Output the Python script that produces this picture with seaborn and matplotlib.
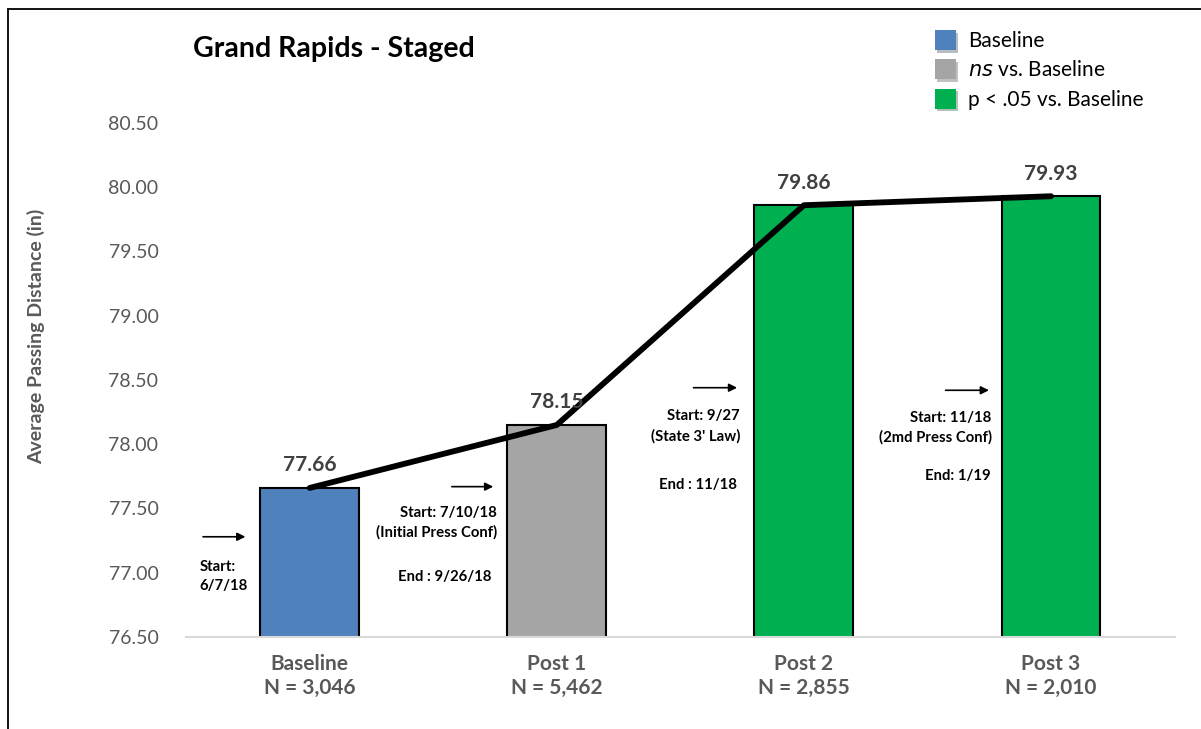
import matplotlib
matplotlib.use("Agg")
import matplotlib.pyplot as plt
import matplotlib.patheffects as pe
from matplotlib.patches import Patch
from matplotlib.lines import Line2D
import seaborn as sns

# data
periods = ["Baseline", "Post 1", "Post 2", "Post 3"]
sample_sizes = ["3,046", "5,462", "2,855", "2,010"]
avg_distance = [77.66, 78.15, 79.86, 79.93]
status = ["Baseline", "ns", "sig", "sig"]
legend_labels = ["Baseline", "$\\it{ns}$ vs. Baseline", "p < .05 vs. Baseline"]
yticks = [76.5, 77.0, 77.5, 78.0, 78.5, 79.0, 79.5, 80.0, 80.5]

colors = {"Baseline": "#4F81BD", "ns": "#A5A5A5", "sig": "#00B050"}
label_grey = "#595959"

sns.set_style("white")
plt.rcParams["font.family"] = ["Lato", "DejaVu Sans"]

fig = plt.figure(figsize=(12.01, 7.29), dpi=100)
ax = fig.add_axes([0.155, 0.1262, 0.823, 0.7051])

sns.barplot(x=periods, y=avg_distance, hue=periods,
            palette=[colors[s] for s in status], width=0.4, saturation=1,
            edgecolor="black", linewidth=1.5, legend=False, ax=ax)
sns.pointplot(x=periods, y=avg_distance, color="black", markers="",
              errorbar=None, lw=4.2, ax=ax)

for cont in ax.containers:
    ax.bar_label(cont, fmt="%.2f", padding=9, fontsize=15,
                 fontweight="bold", color="#404040")

ax.set_ylim(yticks[0], yticks[-1])
ax.set_yticks(yticks)
ax.set_yticklabels([f"{t:.2f}" for t in yticks], fontsize=14, color=label_grey)
ax.set_xticks(range(len(periods)))
ax.set_xticklabels([f"{p}\nN = {n}" for p, n in zip(periods, sample_sizes)],
                   fontsize=15, fontweight="bold", color=label_grey,
                   linespacing=1.25)
ax.tick_params(axis="both", length=0)
ax.tick_params(axis="x", pad=12)
ax.tick_params(axis="y", pad=20)
ax.set_ylabel("Average Passing Distance (in)", fontsize=14, fontweight="bold",
              color=label_grey)
ax.yaxis.set_label_coords(-0.143, 0.584)
ax.set_xlabel("")
for side in ["top", "right", "left"]:
    ax.spines[side].set_visible(False)
ax.spines["bottom"].set_color("#D9D9D9")
ax.spines["bottom"].set_linewidth(1.5)

# period annotations: arrows + start/end text
arrow_kw = dict(arrowstyle="-|>", color="black", lw=1.2, mutation_scale=12)
arrows = [(-0.443, -0.249, 77.28), (0.564, 0.754, 77.67),
          (1.542, 1.741, 78.44), (2.562, 2.760, 78.42)]
for x0, x1, y in arrows:
    ax.annotate("", xy=(x1, y), xytext=(x0, y), arrowprops=arrow_kw)

tkw = dict(fontsize=10.7, fontweight="bold", color="black", va="center",
           linespacing=1.45)
ax.text(-0.447, 76.97, "Start:\n6/7/18", ha="left", **tkw)
ax.text(0.758, 77.39, "Start: 7/10/18\n(Initial Press Conf)", ha="right", **tkw)
ax.text(0.734, 76.97, "End : 9/26/18", ha="right", **tkw)
ax.text(1.741, 78.14, "Start: 9/27\n(State 3' Law)", ha="right", **tkw)
ax.text(1.728, 77.68, "End : 11/18", ha="right", **tkw)
ax.text(2.760, 78.13, "Start: 11/18\n(2md Press Conf)", ha="right", **tkw)
ax.text(2.755, 77.75, "End: 1/19", ha="right", **tkw)

fig.text(193 / 1201, 1 - 49 / 729, "Grand Rapids - Staged", fontsize=20.5,
         fontweight="bold", color="black", va="center", ha="left")

shadow = [pe.SimplePatchShadow(offset=(1.5, -2), alpha=0.3), pe.Normal()]
handles = [Patch(facecolor=colors[k], edgecolor="none", path_effects=shadow)
           for k in ["Baseline", "ns", "sig"]]
fig.legend(handles, legend_labels, loc="upper left",
           bbox_to_anchor=(916 / 1201, 1 - 11 / 729), frameon=False,
           fontsize=15, handlelength=1.0, handleheight=1.1,
           handletextpad=0.6, labelspacing=0.4, labelcolor="black")

# outer frame (top and left edges)
fig.add_artist(Line2D([8 / 1201, 1], [1 - 9 / 729, 1 - 9 / 729],
                      transform=fig.transFigure, color="black", lw=1.3))
fig.add_artist(Line2D([8 / 1201, 8 / 1201], [0, 1 - 9 / 729],
                      transform=fig.transFigure, color="black", lw=1.3))

fig.savefig("out.png", dpi=100)
